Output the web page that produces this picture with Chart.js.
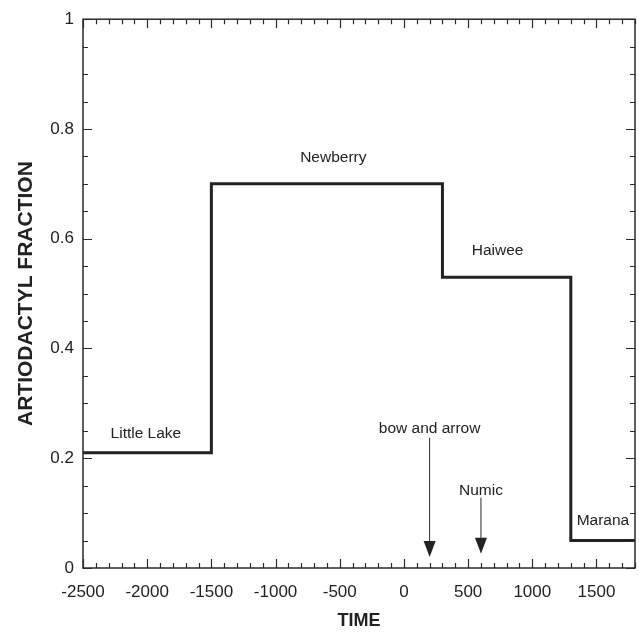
<!DOCTYPE html>
<html>
<head>
<meta charset="utf-8">
<script src="https://cdn.jsdelivr.net/npm/chart.js@4/dist/chart.umd.min.js"></script>
<style>
html,body{margin:0;padding:0;background:#fff;}
#wrap{width:639px;height:632px;position:relative;}
</style>
</head>
<body>
<div id="wrap"><canvas id="c" width="639" height="632"></canvas></div>
<script>
// ---- data ----
const breakTimes = [-2500, -1500, 300, 1300, 1800];
const fractions  = [0.21, 0.70, 0.53, 0.05, 0.05];
const xTickValues = [-2500, -2000, -1500, -1000, -500, 0, 500, 1000, 1500];
const yTickValues = [0, 0.2, 0.4, 0.6, 0.8, 1];
const phaseNames = ['Little Lake', 'Newberry', 'Haiwee', 'Marana'];
const phaseLabelX = [-2010, -550, 730, 1550];
const phaseLabelY = [0.244, 0.747, 0.578, 0.087];
const eventNames = ['bow and arrow', 'Numic'];
const eventTimes = [200, 600];
const eventLabelY = [0.253, 0.141];
const eventArrowTop = [0.237, 0.128];
const eventArrowTip = [0.02, 0.026];

const FONT = "'Liberation Sans', Arial, sans-serif";
const INK = '#222';

const points = breakTimes.map((t, i) => ({x: t, y: fractions[i]}));

const frameTicks = {
  id: 'frameTicks',
  afterDraw(chart) {
    const {ctx, chartArea: a, scales: {x, y}} = chart;
    ctx.save();
    ctx.strokeStyle = '#2a2a2a';
    ctx.lineWidth = 1.5;
    // frame
    ctx.strokeRect(a.left, a.top, a.right - a.left, a.bottom - a.top);
    ctx.lineWidth = 1.2;
    ctx.beginPath();
    for (let v = -2500; v <= 1800; v += 100) {
      const px = Math.round(x.getPixelForValue(v)) + 0.5;
      const len = (v % 500 === 0) ? 9 : 5;
      ctx.moveTo(px, a.bottom); ctx.lineTo(px, a.bottom - len);
      ctx.moveTo(px, a.top); ctx.lineTo(px, a.top + len);
    }
    for (let k = 0; k <= 20; k++) {
      const v = k * 0.05;
      const py = Math.round(y.getPixelForValue(v)) + 0.5;
      const len = (k % 4 === 0) ? 9 : 5;
      ctx.moveTo(a.left, py); ctx.lineTo(a.left + len, py);
      ctx.moveTo(a.right, py); ctx.lineTo(a.right - len, py);
    }
    ctx.stroke();

    // phase labels
    ctx.fillStyle = INK;
    ctx.font = '15.5px ' + FONT;
    ctx.textAlign = 'center';
    ctx.textBaseline = 'middle';
    phaseNames.forEach((n, i) => {
      ctx.fillText(n, x.getPixelForValue(phaseLabelX[i]), y.getPixelForValue(phaseLabelY[i]));
    });
    // event labels and arrows
    eventNames.forEach((n, i) => {
      const px = x.getPixelForValue(eventTimes[i]);
      ctx.fillText(n, px, y.getPixelForValue(eventLabelY[i]));
      const yTop = y.getPixelForValue(eventArrowTop[i]);
      const yTip = y.getPixelForValue(eventArrowTip[i]);
      ctx.beginPath();
      ctx.lineWidth = 1;
      ctx.moveTo(px, yTop); ctx.lineTo(px, yTip - 14);
      ctx.stroke();
      ctx.beginPath();
      ctx.moveTo(px - 6, yTip - 16);
      ctx.lineTo(px + 6, yTip - 16);
      ctx.lineTo(px, yTip);
      ctx.closePath();
      ctx.fill();
    });
    ctx.restore();
  }
};

new Chart(document.getElementById('c'), {
  type: 'line',
  data: {
    datasets: [{
      data: points,
      stepped: 'before',
      borderColor: INK,
      borderWidth: 3,
      pointRadius: 0,
      fill: false,
      clip: false,
      borderJoinStyle: 'miter'
    }]
  },
  options: {
    responsive: false,
    animation: false,
    events: [],
    layout: {padding: {top: 18, right: 4, left: 0, bottom: 0}},
    plugins: {legend: {display: false}, tooltip: {enabled: false}},
    scales: {
      x: {
        type: 'linear',
        min: -2500, max: 1800,
        grid: {display: false, drawTicks: false},
        border: {display: false},
        afterBuildTicks: s => { s.ticks = xTickValues.map(v => ({value: v})); },
        afterFit: s => { s.height = 64; },
        ticks: {
          color: INK, padding: 14, maxRotation: 0, autoSkip: false,
          font: {family: FONT, size: 17},
          callback: v => String(v)
        },
        title: {
          display: true, text: 'TIME', color: INK,
          font: {family: FONT, size: 18, weight: 'bold'},
          padding: {top: 7, bottom: 0}
        }
      },
      y: {
        type: 'linear',
        min: 0, max: 1,
        grid: {display: false, drawTicks: false},
        border: {display: false},
        afterBuildTicks: s => { s.ticks = yTickValues.map(v => ({value: v})); },
        afterFit: s => { s.width = 83; },
        ticks: {
          color: INK, padding: 9, autoSkip: false,
          font: {family: FONT, size: 17},
          callback: v => String(v)
        },
        title: {
          display: true, text: 'ARTIODACTYL FRACTION', color: INK,
          font: {family: FONT, size: 21, weight: 'bold'},
          padding: {top: 14, bottom: 0}
        }
      }
    }
  },
  plugins: [frameTicks]
});
</script>
</body>
</html>
